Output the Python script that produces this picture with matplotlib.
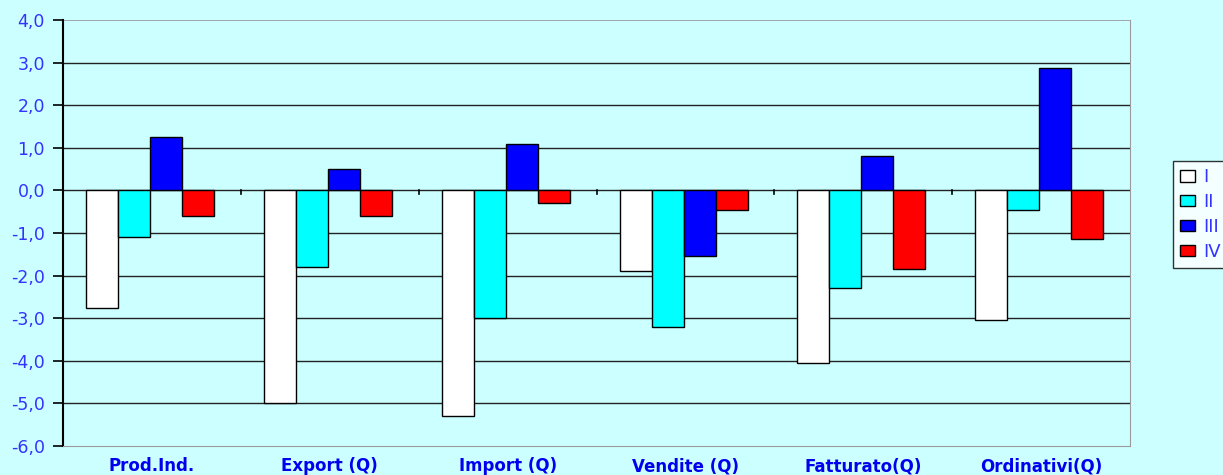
import matplotlib
matplotlib.use("Agg")
import matplotlib.pyplot as plt
import numpy as np
from matplotlib.patches import Patch

categories = ["Prod.Ind.", "Export (Q)", "Import (Q)", "Vendite (Q)", "Fatturato(Q)", "Ordinativi(Q)"]
series_names = ["I", "II", "III", "IV"]
s_I = [-2.75, -5.0, -5.3, -1.9, -4.05, -3.05]
s_II = [-1.1, -1.8, -3.0, -3.2, -2.3, -0.45]
s_III = [1.25, 0.5, 1.1, -1.55, 0.8, 2.87]
s_IV = [-0.6, -0.6, -0.3, -0.45, -1.85, -1.15]
yticks = [4, 3, 2, 1, 0, -1, -2, -3, -4, -5, -6]
colors = ["#FFFFFF", "#00FFFF", "#0000FF", "#FF0000"]

plt.rcParams['font.family'] = ['DejaVu Sans']
bg = "#CCFFFF"
txt = "#3333FF"

fig = plt.figure(figsize=(12.23, 4.75), dpi=100, facecolor=bg)
ax = fig.add_axes([63/1223, 1-446/475, (1130-63)/1223, (446-20)/475])
ax.set_facecolor(bg)

n = len(categories)
x = np.arange(n) + 0.5
w = 0.18
data = [s_I, s_II, s_III, s_IV]
for i, (vals, c) in enumerate(zip(data, colors)):
    ax.bar(x + (i - 1.5) * w - 0.01, vals, width=w, color=c, edgecolor="black", linewidth=1.0, zorder=3)

ax.set_xlim(0, n)
ax.set_ylim(-6, 4)
ax.set_yticks(yticks)
ax.set_yticklabels([f"{v:.1f}".replace(".", ",") for v in yticks], color=txt, fontsize=12.5)
for v in yticks:
    if v == 4:
        ax.axhline(v, color="#999999", lw=1.2, zorder=1)
    elif v != -6:
        ax.axhline(v, color="#222222", lw=1.0, zorder=1)
ax.set_xticks([])
for k in range(1, n):
    ax.plot([k, k], [0, -0.08], color="black", lw=1.2, zorder=4, clip_on=False)
for xi, lab in zip(x, categories):
    ax.text(xi, -6.47, lab, ha="center", va="center", color="#0000EE", fontsize=12, fontweight="bold")

ax.spines['left'].set_color("black")
ax.spines['left'].set_linewidth(1.5)
ax.spines['bottom'].set_color("#999999")
ax.spines['right'].set_color("#999999")
ax.spines['top'].set_visible(False)
ax.tick_params(axis='y', length=7, width=1.2, color="black", pad=6, direction='out')

handles = [Patch(facecolor=c, edgecolor="black", linewidth=1.0) for c in colors]
leg = fig.legend(handles, series_names, loc="upper left", bbox_to_anchor=(1173/1223, 1-161/475),
                 frameon=True, fancybox=False, edgecolor="black", facecolor="white",
                 fontsize=13, handlelength=0.8, handleheight=0.6, handletextpad=0.5,
                 labelspacing=0.38, borderpad=0.4, borderaxespad=0)
for t in leg.get_texts():
    t.set_color(txt)
leg.get_frame().set_linewidth(1.0)

fig.savefig("out.png", dpi=100, facecolor=bg)
